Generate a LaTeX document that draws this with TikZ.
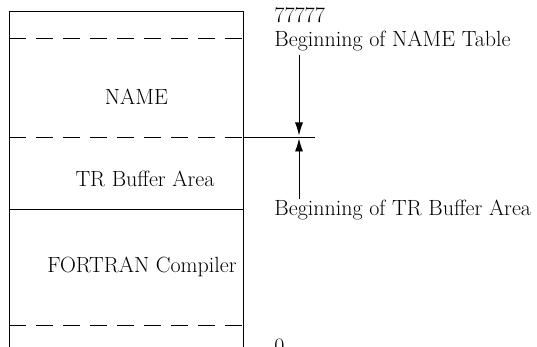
\documentclass[tikz,border=0pt]{standalone}
\usetikzlibrary{arrows.meta}

\tikzset{
    memtext/.style={font=\fontsize{22}{26}\selectfont, inner sep=0pt},
    partline/.style={dash pattern=on 17pt off 10pt},
    ptr/.style={-{Latex[length=13pt,width=8pt]}, shorten >=1.5pt},
}

\begin{document}
\begin{tikzpicture}[x=1pt, y=-1pt, line width=0.9pt]
    \useasboundingbox (0,0) rectangle (537,347);

    % Memory block
    \draw (9,347) -- (9,11) -- (243,11) -- (243,347);
    \draw[partline] (9,38) -- (243,38);
    \draw[partline] (9,137) -- (243,137);
    \draw (9,209) -- (243,209);
    \draw[partline] (9,325) -- (243,325);

    % Areas
    \node[memtext, anchor=base] (name) at (136.5,105) {NAME};
    \node[memtext, anchor=base] (trbuf) at (145,187) {TR Buffer Area};
    \node[memtext, anchor=base] (fortran) at (142,272) {FORTRAN Compiler};

    % Addresses
    \node[memtext, anchor=base west] (top) at (274,23) {77777};
    \node[memtext, anchor=base west] (namebeg) at (274,47) {Beginning of NAME Table};
    \node[memtext, anchor=base west] (trbeg) at (274,215) {Beginning of TR Buffer Area};
    \node[memtext, anchor=base west] (zero) at (274,353) {0};

    % Boundary pointer
    \coordinate (edge) at (243,137);
    \coordinate (split) at (299,137);
    \coordinate (tick) at (315,137);
    \draw (edge) -- (tick);
    \draw[ptr, shorten <=3pt] (namebeg.south -| split) -- (split);
    \draw[ptr] (trbeg.north -| split) -- (split);
\end{tikzpicture}
\end{document}
